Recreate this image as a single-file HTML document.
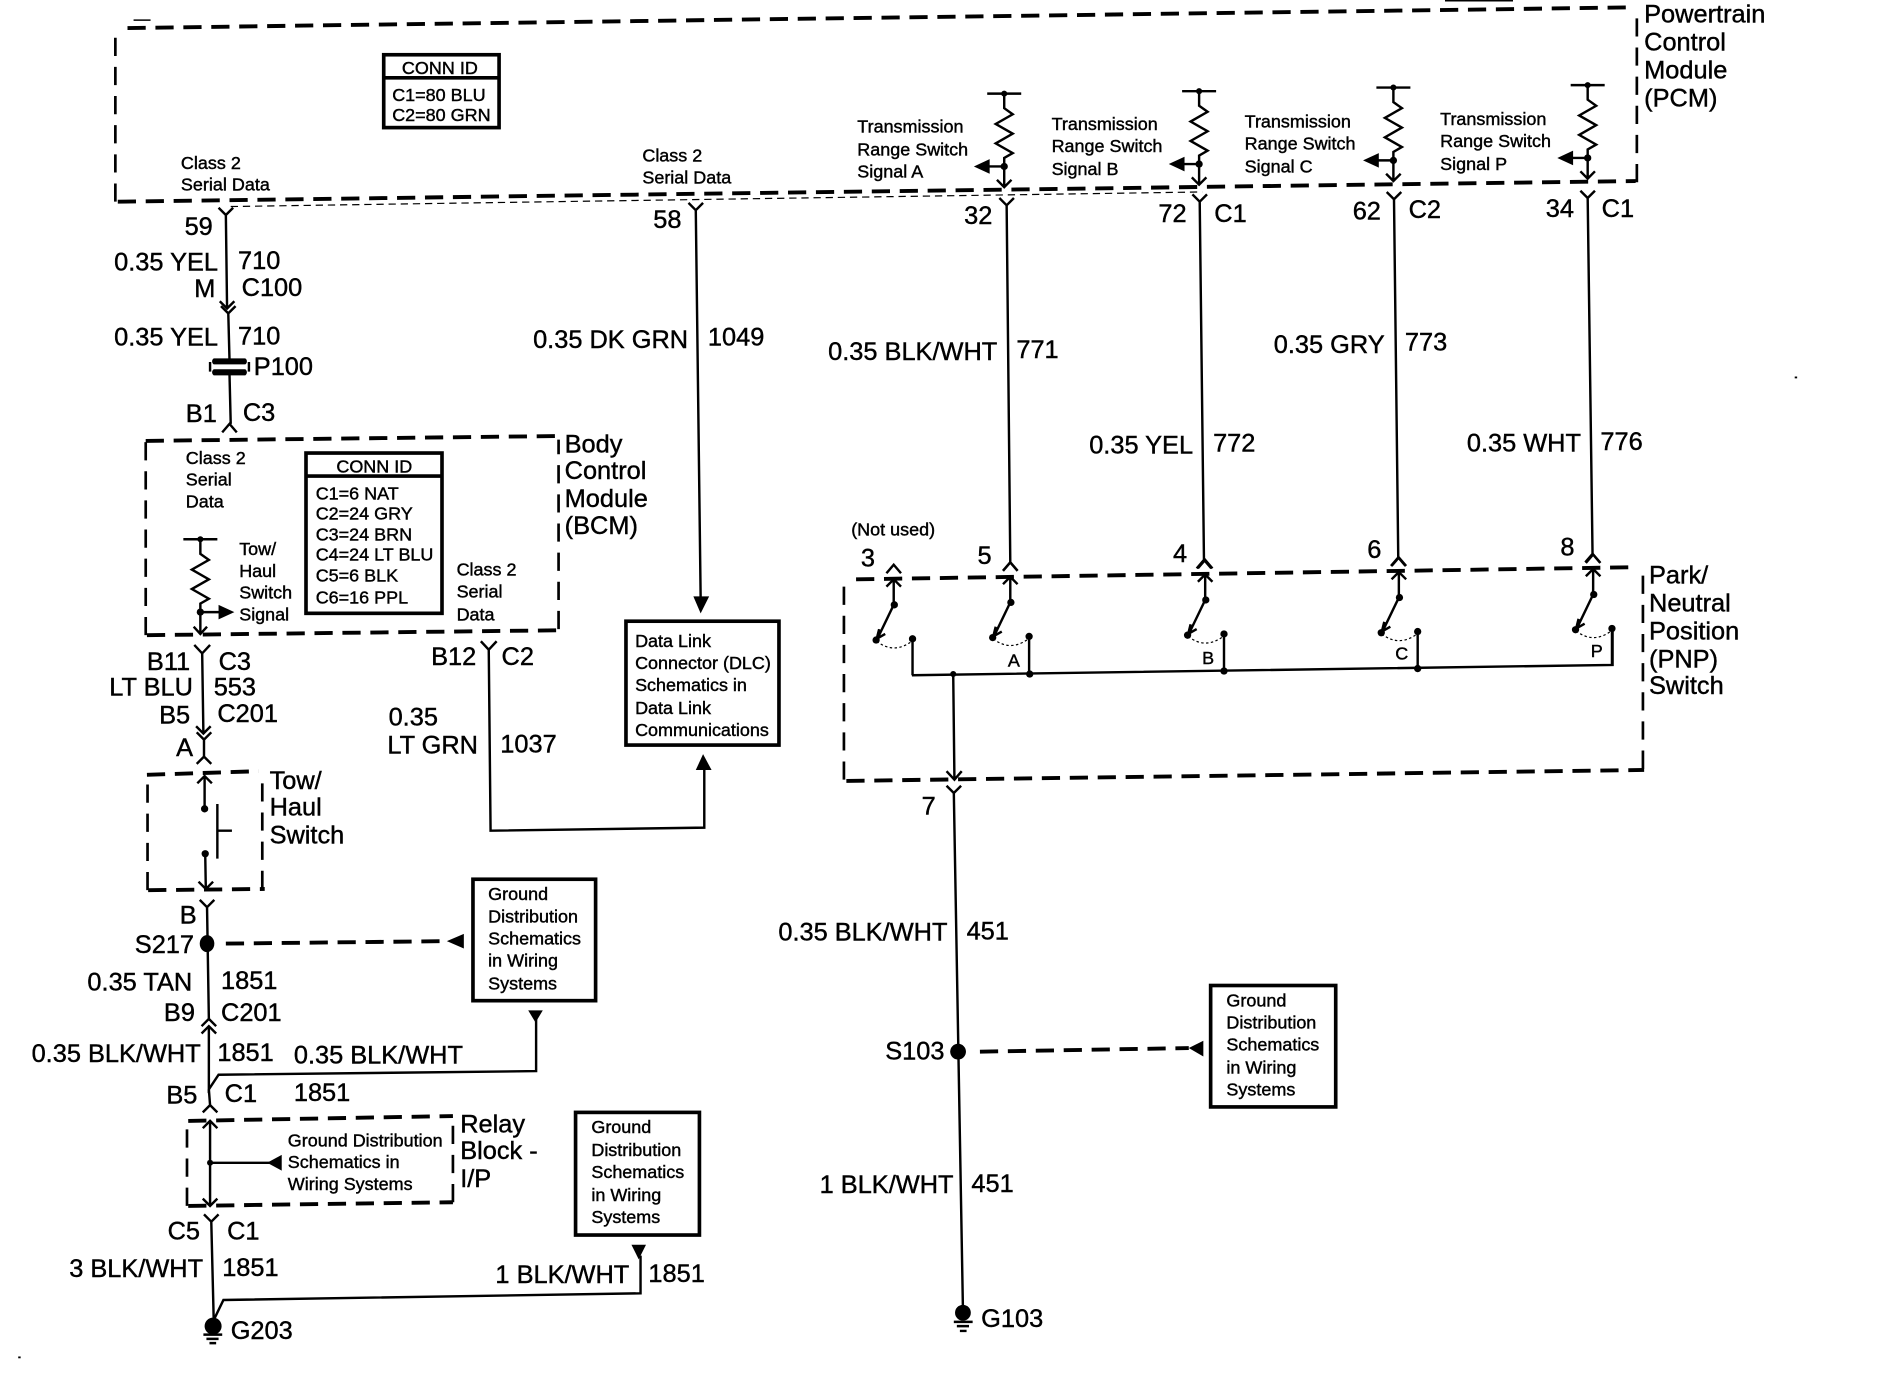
<!DOCTYPE html>
<html><head><meta charset="utf-8"><title>Wiring Diagram</title>
<style>
html,body{margin:0;padding:0;background:#fff}
svg{display:block}
text{font-family:"Liberation Sans",sans-serif;fill:#000;stroke:#000;stroke-width:.35;dominant-baseline:central}
.b text{font-size:20.9px}
.s text{font-size:14.8px}
.w{fill:none;stroke:#000;stroke-width:2;stroke-linejoin:miter}
.t{fill:none;stroke:#000;stroke-width:1.3}
.d{fill:none;stroke:#000;stroke-width:3.2;stroke-dasharray:15 8}
.v{fill:none;stroke:#000;stroke-width:2.2;stroke-dasharray:15 9}
.h{fill:none;stroke:#000;stroke-width:1;stroke-dasharray:6 4}
.x{fill:none;stroke:#000;stroke-width:1;stroke-dasharray:2 2}
.box{fill:#fff;stroke:#000;stroke-width:3}
.f{fill:#000;stroke:none}
</style></head><body>
<svg xmlns="http://www.w3.org/2000/svg" width="1904" height="1376" viewBox="0 0 1568 1133">
<rect width="1568" height="1133" fill="#fff"/>

<!-- scan artefacts -->
<path class="t" d="M110,16.500h14M1190,0.500h56"/>
<rect class="f" x="15" y="1117" width="2" height="1.500"/>
<rect class="f" x="1478" y="310" width="2" height="1.500"/>

<!-- dashed module boxes -->
<path class="d" d="M105,23L1344,6"/>
<path class="d" d="M97,166L1347,149"/>
<path class="v" d="M95,166V24M1348,150V6"/>
<path class="h" d="M190,170L990,158"/>

<path class="d" d="M120,363L458,359M121,523L458,519"/>
<path class="v" d="M120,523V363M460,518V362"/>

<path class="d" d="M705,477L1348,467M697,643L1354,634"/>
<path class="v" d="M695,642V477M1353,633V470"/>

<path class="d" d="M121,638L213,635M122,733L218,732"/>
<path class="v" d="M121.500,733V638M216,732V638"/>

<path class="d" d="M155,923L373,919M155,993L373,990"/>
<path class="v" d="M154,993V923M373,990V919"/>

<path class="d" d="M186,777L366,775M807,866L979,863"/>

<!-- left column wires -->
<path class="w" d="M186,177L187,254M180,171L186,177L192,171M181,248L187,254L193,248"/>
<path class="w" d="M188,258L189,296M189,308L190,349M182,252L188,258L194,252M183,356L189,349L195,356"/>
<path class="f" d="M176,295h26a3,3 0 0 1 0,5h-26a3,3 0 0 1 0,-5zM176,304h26a3,3 0 0 1 0,5h-26a3,3 0 0 1 0,-5z"/>
<path class="w" d="M173,298v8M205,298v8" stroke-width="1.500"/>

<path class="w" d="M166.500,538L167.500,604M160,531L166.500,538L173,531M161.500,598L167.500,604L173.500,598"/>
<path class="w" d="M168,609V623M162,603L168,609L174,603M162,629L168,623L174,629"/>
<path class="w" d="M168.500,639V666M162.500,645L168.500,639L174.500,645"/>
<circle class="f" cx="168.500" cy="666" r="3"/>
<path class="w" d="M179,662V707M179,684H191"/>
<circle class="f" cx="169" cy="703" r="3"/>
<path class="w" d="M169,703L169.500,732M163.500,726L169.500,732L175.500,726"/>
<path class="w" d="M170.500,747L172,839M164.500,741L170.500,747L176.500,741M166,845L172,839L178,845M166,851L172,845L178,851"/>
<ellipse class="f" cx="170.500" cy="777" rx="6" ry="7"/>
<path class="w" d="M172,846V897L180,885L441.500,882V838"/>
<path class="w" d="M172,897L173,910M167,916L173,910L179,916"/>
<path class="f" d="M435,832H447L441,842Z"/>
<path class="f" d="M382,769V781L368,775Z"/>

<path class="w" d="M173,923V993M167,929L173,923L179,929M167,987L173,993L179,987M173,957.500H222"/>
<circle class="f" cx="173" cy="957.500" r="2.500"/>
<path class="f" d="M232,951V964L220,957.500Z"/>

<path class="w" d="M174,1006L176,1087L184,1070.500L527.500,1065V1034M168,1000L174,1006L180,1000"/>
<path class="f" d="M520,1025H532L526,1037Z"/>
<circle class="f" cx="175.500" cy="1092" r="7"/>
<path class="w" d="M167.500,1099H183M170,1102.500H180M172.500,1106H178"/>

<!-- BCM resistor -->
<path class="w" d="M151,444H179M165,444v12l7,5 -14,8 14,8 -14,8 14,8 -7,4v7V522M159.500,516L165,522L170.500,516M165,504H181"/>
<circle class="f" cx="165" cy="444" r="2.500"/>
<circle class="f" cx="165" cy="504" r="3"/>
<path class="f" d="M180,498V510L193,504Z"/>

<!-- BCM class 2 out / DLC -->
<path class="w" d="M402.500,535L404,684L580,681.500V632M396,528L402.500,535L409,528"/>
<path class="f" d="M573,634H586L579,621Z"/>
<path class="w" d="M573,173L577,492M567,167L573,173L579,167"/>
<path class="f" d="M571,491H584L577,505Z"/>

<!-- PCM resistors -->
<g id="ra">
<path class="w" d="M813,77H841M827,77v12l7,5 -14,8 14,8 -14,8 14,8 -7,4v7V154M821,148L827,154L833,148M827,137H812"/>
<circle class="f" cx="827" cy="77" r="2.500"/><circle class="f" cx="827" cy="137" r="3"/>
<path class="f" d="M815,131V143L802,137Z"/>
</g>
<use href="#ra" x="160.500" y="-2"/>
<use href="#ra" x="320.500" y="-5"/>
<use href="#ra" x="480.500" y="-7"/>

<!-- PCM to PNP wires -->
<path class="w" d="M829,169L832,463M823,163L829,169L835,163M826,470L832,463L838,470"/>
<path class="w" d="M988,166L991.500,461M982,160L988,166L994,160M985.500,468L991.500,461L997.500,468"/>
<path class="w" d="M1148,164L1151.500,459M1142,158L1148,164L1154,158M1145.500,466L1151.500,459L1157.500,466"/>
<path class="w" d="M1307.500,163L1311.500,456M1301.500,157L1307.500,163L1313.500,157M1305.500,463L1311.500,456L1317.500,463"/>

<!-- PNP switches -->
<g id="sw">
<path class="w" d="M730,472L736,465L742,472M736,477V498L723,525M730,483L736,477L742,483M724,518L722,526L729,522M751.500,526V556"/>
<circle class="f" cx="736.500" cy="498" r="3"/><circle class="f" cx="721.500" cy="527" r="3"/><circle class="f" cx="751.500" cy="526" r="3"/>
<path class="x" d="M722,528Q736,539 751,528"/>
</g>
<use href="#sw" x="96" y="-2"/>
<use href="#sw" x="256.500" y="-4"/>
<use href="#sw" x="416" y="-6"/>
<use href="#sw" x="576" y="-8.500"/>
<path class="w" d="M751,556L1328,547.500V518"/>
<circle class="f" cx="785" cy="555" r="2.500"/><circle class="f" cx="848" cy="555" r="3"/>
<circle class="f" cx="1008" cy="552.500" r="3"/><circle class="f" cx="1167.500" cy="550.500" r="3"/>

<!-- lower right wire -->
<path class="w" d="M785,555L786,642M779.500,635L786,642L792,635"/>
<path class="w" d="M785.500,653L793,1078M779.500,647L785.500,653L791.500,647"/>
<circle class="f" cx="789" cy="866" r="6.500"/>
<path class="f" d="M979,863L991,857V870Z"/>
<circle class="f" cx="793" cy="1081" r="6.500"/>
<path class="w" d="M785.500,1088.500H801M788,1092H798M790.500,1096H796"/>

<!-- boxes -->
<rect class="box" x="316" y="45" width="95" height="60"/><path class="box" d="M316,64H411"/>
<rect class="box" x="252" y="373" width="112" height="132"/><path class="box" d="M252,392H364"/>
<rect class="box" x="515.500" y="511.500" width="126" height="102"/>
<rect class="box" x="389.500" y="724" width="101" height="100"/>
<rect class="box" x="474" y="916" width="102" height="101"/>
<rect class="box" x="997" y="811.500" width="103" height="100"/>

<g class="s">
<text x="331" y="56">CONN ID</text><text x="323" y="78">C1=80 BLU</text><text x="323" y="94.500">C2=80 GRN</text>
<text x="149" y="134">Class 2</text><text x="149" y="152">Serial Data</text>
<text x="529" y="128">Class 2</text><text x="529" y="146">Serial Data</text>
<text x="706" y="104">Transmission</text><text x="706" y="123">Range Switch</text><text x="706" y="141">Signal A</text>
<text x="866" y="102">Transmission</text><text x="866" y="120">Range Switch</text><text x="866" y="139">Signal B</text>
<text x="1025" y="100">Transmission</text><text x="1025" y="118">Range Switch</text><text x="1025" y="137">Signal C</text>
<text x="1186" y="98">Transmission</text><text x="1186" y="116">Range Switch</text><text x="1186" y="135">Signal P</text>
<text x="153" y="377">Class 2</text><text x="153" y="395">Serial</text><text x="153" y="413">Data</text>
<text x="197" y="452">Tow/</text><text x="197" y="470">Haul</text><text x="197" y="488">Switch</text><text x="197" y="506">Signal</text>
<text x="277" y="384">CONN ID</text>
<text x="260" y="406.500">C1=6 NAT</text><text x="260" y="423">C2=24 GRY</text><text x="260" y="440">C3=24 BRN</text><text x="260" y="456.500">C4=24 LT BLU</text><text x="260" y="474">C5=6 BLK</text><text x="260" y="492">C6=16 PPL</text>
<text x="376" y="469">Class 2</text><text x="376" y="487">Serial</text><text x="376" y="506">Data</text>
<text x="523" y="528">Data Link</text><text x="523" y="546">Connector (DLC)</text><text x="523" y="564">Schematics in</text><text x="523" y="583">Data Link</text><text x="523" y="601">Communications</text>
<text x="402" y="736">Ground</text><text x="402" y="754.500">Distribution</text><text x="402" y="773">Schematics</text><text x="402" y="791">in Wiring</text><text x="402" y="810">Systems</text>
<text x="487" y="928">Ground</text><text x="487" y="947">Distribution</text><text x="487" y="965">Schematics</text><text x="487" y="984">in Wiring</text><text x="487" y="1002">Systems</text>
<text x="1010" y="824">Ground</text><text x="1010" y="842">Distribution</text><text x="1010" y="860">Schematics</text><text x="1010" y="879">in Wiring</text><text x="1010" y="897">Systems</text>
<text x="237" y="939">Ground Distribution</text><text x="237" y="957">Schematics in</text><text x="237" y="975">Wiring Systems</text>
<text x="701" y="436">(Not used)</text>
<text x="830" y="544">A</text><text x="990" y="542">B</text><text x="1149" y="538">C</text><text x="1310" y="536">P</text>
</g>

<g class="b">
<text x="1354" y="12">Powertrain</text><text x="1354" y="35">Control</text><text x="1354" y="58">Module</text><text x="1354" y="81">(PCM)</text>
<text x="465" y="366">Body</text><text x="465" y="388">Control</text><text x="465" y="411">Module</text><text x="465" y="433">(BCM)</text>
<text x="1358" y="474">Park/</text><text x="1358" y="497">Neutral</text><text x="1358" y="520">Position</text><text x="1358" y="543">(PNP)</text><text x="1358" y="565">Switch</text>
<text x="222" y="643">Tow/</text><text x="222" y="665">Haul</text><text x="222" y="688">Switch</text>
<text x="379" y="926">Relay</text><text x="379" y="948">Block -</text><text x="379" y="971">I/P</text>

<text x="152" y="187">59</text><text x="94" y="216">0.35 YEL</text><text x="196" y="215">710</text>
<text x="160" y="238">M</text><text x="199" y="237">C100</text>
<text x="94" y="278">0.35 YEL</text><text x="196" y="277">710</text><text x="209" y="302">P100</text>
<text x="153" y="341">B1</text><text x="200" y="340">C3</text>
<text x="538" y="181">58</text><text x="439" y="280">0.35 DK GRN</text><text x="583" y="278">1049</text>
<text x="794" y="178">32</text><text x="682" y="290">0.35 BLK/WHT</text><text x="837" y="288">771</text>
<text x="954" y="176">72</text><text x="1000" y="176">C1</text>
<text x="1114" y="174">62</text><text x="1160" y="173">C2</text>
<text x="1273" y="172">34</text><text x="1319" y="172">C1</text>
<text x="897" y="367">0.35 YEL</text><text x="999" y="365">772</text>
<text x="1049" y="284">0.35 GRY</text><text x="1157" y="282">773</text>
<text x="1208" y="365">0.35 WHT</text><text x="1318" y="364">776</text>
<text x="709" y="460">3</text><text x="805" y="458">5</text><text x="966" y="456">4</text><text x="1126" y="453">6</text><text x="1285" y="451">8</text>
<text x="121" y="545">B11</text><text x="180" y="545">C3</text>
<text x="90" y="566">LT BLU</text><text x="176" y="566">553</text>
<text x="131" y="589">B5</text><text x="179" y="588">C201</text><text x="145" y="616">A</text>
<text x="355" y="541">B12</text><text x="413" y="541">C2</text>
<text x="320" y="591">0.35</text><text x="319" y="614">LT GRN</text><text x="412" y="613">1037</text>
<text x="148" y="754">B</text><text x="111" y="778">S217</text>
<text x="72" y="809">0.35 TAN</text><text x="182" y="808">1851</text>
<text x="135" y="834">B9</text><text x="182" y="834">C201</text>
<text x="26" y="868">0.35 BLK/WHT</text><text x="179" y="867">1851</text><text x="242" y="869">0.35 BLK/WHT</text>
<text x="137" y="902">B5</text><text x="185" y="901">C1</text><text x="242" y="900">1851</text>
<text x="138" y="1014">C5</text><text x="187" y="1014">C1</text>
<text x="57" y="1045">3 BLK/WHT</text><text x="183" y="1044">1851</text>
<text x="408" y="1050">1 BLK/WHT</text><text x="534" y="1049">1851</text>
<text x="190" y="1096">G203</text>
<text x="759" y="664">7</text>
<text x="641" y="768">0.35 BLK/WHT</text><text x="796" y="767">451</text>
<text x="729" y="866">S103</text>
<text x="675" y="976">1 BLK/WHT</text><text x="800" y="975">451</text>
<text x="808" y="1086">G103</text>
</g>
</svg>
</body></html>
